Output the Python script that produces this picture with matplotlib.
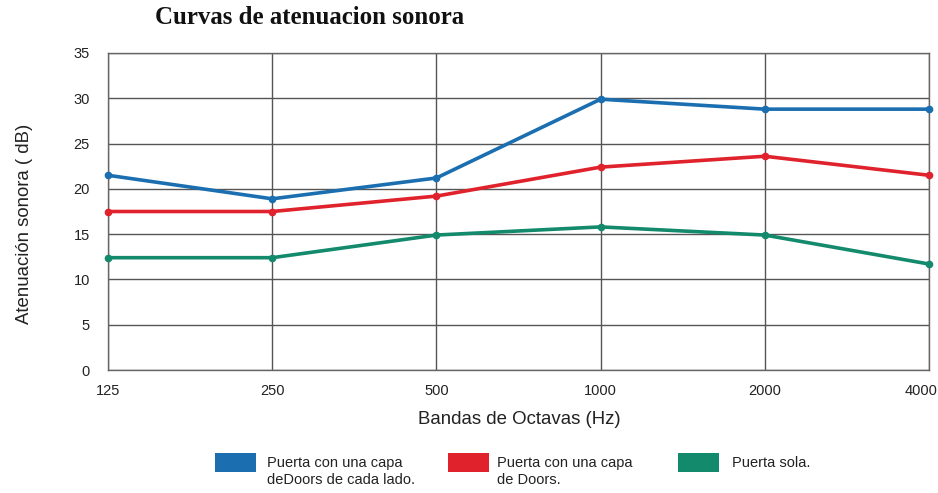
import matplotlib
matplotlib.use("Agg")
import matplotlib.pyplot as plt
import matplotlib.transforms as mtransforms
from matplotlib.patches import Rectangle

plt.rcParams["font.family"] = ["Liberation Sans", "DejaVu Sans"]

categories = ["125", "250", "500", "1000", "2000", "4000"]
blue_vals = [21.5, 18.9, 21.2, 29.9, 28.8, 28.8]
red_vals = [17.5, 17.5, 19.2, 22.4, 23.6, 21.5]
green_vals = [12.4, 12.4, 14.9, 15.8, 14.9, 11.7]
series_labels = ["Puerta con una capa\ndeDoors de cada lado.",
                 "Puerta con una capa\nde Doors.",
                 "Puerta sola."]
colors = ["#1b6fb0", "#e0222c", "#138a6c"]
yticks = [0, 5, 10, 15, 20, 25, 30, 35]

W, H = 938, 493
fig = plt.figure(figsize=(W / 100, H / 100), dpi=100)
ax = fig.add_axes([108 / W, 1 - 370 / H, (929 - 108) / W, (370 - 53) / H])
x = list(range(len(categories)))
for vals, c in zip([blue_vals, red_vals, green_vals], colors):
    ax.plot(x, vals, color=c, lw=2.6, marker="o", ms=4.5, zorder=3, clip_on=False)

ax.set_xlim(0, len(categories) - 1)
ax.set_ylim(0, 35)
ax.set_xticks(x)
ax.set_xticklabels(categories)
ax.set_yticks(yticks)
ax.grid(True, color="#555555", lw=1.0)
for s in ax.spines.values():
    s.set_color("#666666")
    s.set_linewidth(1.0)
ax.tick_params(length=0, labelsize=10.5, colors="#222222")
ax.tick_params(axis="x", pad=10)
ax.tick_params(axis="y", pad=13)
last = ax.get_xticklabels()[-1]
last.set_horizontalalignment("right")
last.set_transform(last.get_transform() + mtransforms.ScaledTranslation(8 / 100, 0, fig.dpi_scale_trans))

fig.text(519 / W, 1 - 419 / H, "Bandas de Octavas (Hz)", fontsize=13.4, color="#222222",
         ha="center", va="center")
fig.text(25 / W, 1 - 224 / H, "Atenuación sonora ( dB)", fontsize=13.4, color="#222222",
         ha="center", va="center", rotation=90)

fig.text(310 / W, 1 - 18 / H, "Curvas de atenuacion sonora", fontsize=17.9, fontweight="bold",
         family="Liberation Serif", ha="center", va="center", color="#111111")

# legend
patch_x = [215, 448, 678]
text_x = [267, 497, 732]
for px, tx, c, lab in zip(patch_x, text_x, colors, series_labels):
    fig.add_artist(Rectangle((px / W, 1 - 472 / H), 41 / W, 19 / H,
                             transform=fig.transFigure, facecolor=c, edgecolor="none"))
    fig.text(tx / W, 1 - 456 / H, lab, fontsize=10.5, color="#222222",
             ha="left", va="top", linespacing=1.25)

fig.savefig("out.png", dpi=100)
